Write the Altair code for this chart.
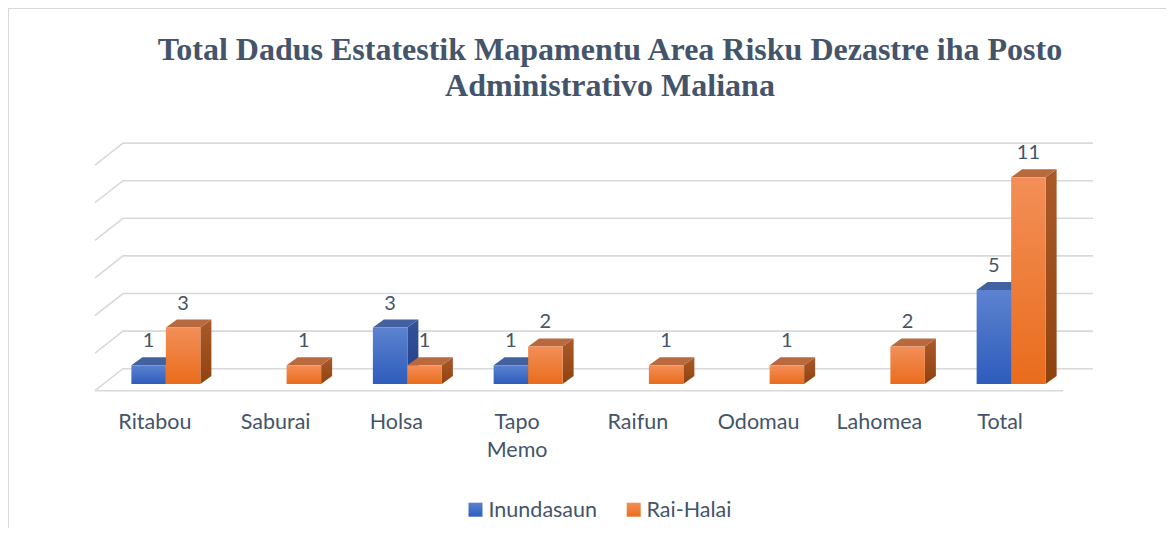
import altair as alt
import pandas as pd

# ---------------- data ----------------
categories = ["Ritabou", "Saburai", "Holsa", "Tapo Memo", "Raifun", "Odomau", "Lahomea", "Total"]
inundasaun = [1, 0, 3, 1, 0, 0, 0, 5]
rai_halai = [3, 1, 1, 2, 1, 1, 2, 11]
series_names = ["Inundasaun", "Rai-Halai"]
grid_values = [0, 2, 4, 6, 8, 10, 12]
title_lines = ["Total Dadus Estatestik Mapamentu Area Risku Dezastre iha Posto",
               "Administrativo Maliana"]

# ---------------- layout (page pixels -> scale units) ----------------
W, H = 1158, 520
ORIGIN_X = 97.0    # floor front-left corner
ORIGIN_Y = 384.0   # value 0 on the bar front plane
BAND = 120.75      # width of one category band
PY = 18.8          # pixels per value unit


def u(px):
    return (px - ORIGIN_X) / BAND


def v(py):
    return (ORIGIN_Y - py) / PY


def du(d):
    return d / BAND


def dv(d):
    return d / PY


x_scale = alt.Scale(domain=[u(8), u(8 + W)], nice=False, zero=False)
y_scale = alt.Scale(domain=[v(8 + H), v(8)], nice=False, zero=False)


def X(f):
    return alt.X(f, type="quantitative", scale=x_scale, axis=None)


def Y(f):
    return alt.Y(f, type="quantitative", scale=y_scale, axis=None)


BAR_W = du(34.5)
DEPTH_X = du(11)
DEPTH_Y = dv(8)
SHIFT = du(8.5)
WALL_BACK = dv(15.3)
WALL_DX_FRONT = 95.0
WALL_DX_BACK = 123.0
WALL_RIGHT = 1093.0
WALL_DY = dv(22)

TEXT = "#44546a"
GRID = "#d9d9d9"


def grad(top, bottom):
    return alt.LinearGradient(
        gradient="linear", x1=0, y1=0, x2=0, y2=1,
        stops=[alt.GradientStop(offset=0, color=top), alt.GradientStop(offset=1, color=bottom)],
    )


styles = {
    "Inundasaun": dict(front=grad("#5d83d0", "#2d5cbc"), top="#43609f", side=grad("#34539a", "#233f86"),
                       legend=grad("#5a80cf", "#2f5fbf")),
    "Rai-Halai": dict(front=grad("#f38f58", "#e96c1c"), top="#b9693e", side=grad("#aa5a28", "#8f420f"),
                      legend=grad("#f48e55", "#ea6d1d")),
}

# ---------------- geometry from data ----------------
front_rows, top_rows, side_rows, label_rows = [], [], [], []
for s, (name, vals) in enumerate(zip(series_names, [inundasaun, rai_halai])):
    for i, (cat, val) in enumerate(zip(categories, vals)):
        if val <= 0:
            continue
        xc = i + 0.5 + SHIFT
        xl = xc - BAR_W if s == 0 else xc
        xr = xl + BAR_W
        bid = f"{s}-{i}"
        front_rows.append(dict(series=name, id=bid, xl=xl, xr=xr, y0=0.0, y1=val))
        side_rows += [
            dict(series=name, id=bid, x=xr, y=val, y2=0.0),
            dict(series=name, id=bid, x=xr + DEPTH_X, y=val + DEPTH_Y, y2=DEPTH_Y),
        ]
        top_rows += [
            dict(series=name, id=bid, x=xl, y=val, y2=val),
            dict(series=name, id=bid, x=xl + DEPTH_X, y=val + DEPTH_Y, y2=val),
            dict(series=name, id=bid, x=xr, y=val + DEPTH_Y, y2=val),
            dict(series=name, id=bid, x=xr + DEPTH_X, y=val + DEPTH_Y, y2=val + DEPTH_Y),
        ]
        label_rows.append(dict(series=name, x=(xl + xr) / 2, y=val, text=str(val)))

front_df = pd.DataFrame(front_rows)
top_df = pd.DataFrame(top_rows)
side_df = pd.DataFrame(side_rows)
label_df = pd.DataFrame(label_rows)

grid_rows = []
for g in grid_values:
    yb = g + WALL_BACK
    grid_rows += [
        dict(g=g, x=u(WALL_DX_FRONT), y=yb - WALL_DY),
        dict(g=g, x=u(WALL_DX_BACK), y=yb),
        dict(g=g, x=u(WALL_RIGHT), y=yb),
    ]
grid_df = pd.DataFrame(grid_rows)
floor_df = pd.DataFrame([dict(x=u(WALL_DX_FRONT), x2=u(1063), y=WALL_BACK - WALL_DY)])

cat_df = pd.DataFrame(dict(
    x=[i + 0.5 - du(2.5) for i in range(len(categories))],
    y=[v(428.5)] * len(categories),
    text=[c.replace(" ", "\n") for c in categories],
))

title_df = pd.DataFrame(dict(x=[u(610)] * 2, y=[v(60), v(96)], text=title_lines))

legend_df = pd.DataFrame(dict(
    series=series_names,
    sx=[u(475.5), u(633.7)],
    tx=[u(488.5), u(646.5)],
    sy=[v(509.7)] * 2,
    ty=[v(517)] * 2,
))

# ---------------- layers ----------------
layers = []

layers.append(alt.Chart(grid_df).mark_line(color=GRID, strokeWidth=1.6).encode(
    x=X("x"), y=Y("y"), detail="g:N"))
layers.append(alt.Chart(floor_df).mark_rule(color=GRID, strokeWidth=1.6).encode(
    x=X("x"), x2="x2", y=Y("y")))

for name in series_names:
    st = styles[name]
    layers.append(alt.Chart(side_df).transform_filter(alt.datum.series == name)
                  .mark_area(color=st["side"]).encode(
        x=X("x"), y=Y("y"), y2="y2", detail="id:N"))
    layers.append(alt.Chart(top_df).transform_filter(alt.datum.series == name)
                  .mark_area(color=st["top"]).encode(
        x=X("x"), y=Y("y"), y2="y2", detail="id:N"))
    layers.append(alt.Chart(front_df).transform_filter(alt.datum.series == name)
                  .mark_rect(color=st["front"]).encode(
        x=X("xl"), x2="xr", y=Y("y0"), y2="y1"))

layers.append(alt.Chart(label_df).mark_text(
    font="Lato", fontSize=20, color=TEXT, baseline="alphabetic", align="center", dy=-18).encode(
    x=X("x"), y=Y("y"), text="text:N"))

layers.append(alt.Chart(cat_df).mark_text(
    font="Lato", fontSize=21.5, color=TEXT, baseline="alphabetic", align="center",
    lineBreak="\n", lineHeight=28).encode(
    x=X("x"), y=Y("y"), text="text:N"))

layers.append(alt.Chart(title_df).mark_text(
    font="Liberation Serif", fontSize=32, fontWeight="bold", color=TEXT,
    baseline="alphabetic", align="center").encode(
    x=X("x"), y=Y("y"), text="text:N"))

for idx, name in enumerate(series_names):
    sub = legend_df[legend_df.series == name]
    layers.append(alt.Chart(sub).mark_square(size=196, opacity=1, color=styles[name]["legend"]).encode(
        x=X("sx"), y=Y("sy")))
    layers.append(alt.Chart(sub).mark_text(
        font="Lato", fontSize=21.5, color=TEXT, baseline="alphabetic", align="left").encode(
        x=X("tx"), y=Y("ty"), text="series:N"))

# chart frame (left and top edges visible in the window)
layers.append(alt.Chart(pd.DataFrame({"k": [0]})).mark_rule(color=GRID, strokeWidth=2).encode(
    x=alt.value(0), y=alt.value(0), y2=alt.value(H)))
layers.append(alt.Chart(pd.DataFrame({"k": [0]})).mark_rule(color=GRID, strokeWidth=2).encode(
    x=alt.value(0), x2=alt.value(W), y=alt.value(0)))

chart = alt.layer(*layers).properties(
    width=W, height=H,
    autosize=alt.AutoSizeParams(type="none"),
    padding=0,
    background="white",
).configure_view(stroke=None)

chart.save("out.html", embed_options={"renderer": "svg", "actions": False})
